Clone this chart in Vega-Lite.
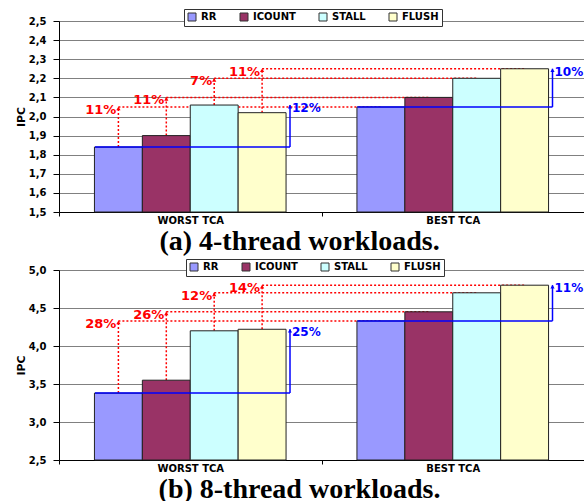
{
  "$schema": "https://vega.github.io/schema/vega-lite/v6.json",
  "padding": {"left": 14, "top": 8, "right": 0, "bottom": 0},
  "background": "white",
  "bounds": "flush",
  "spacing": 58,
  "datasets": {
    "top": [
      {"series": "RR", "WORST TCA": 1.84, "BEST TCA": 2.05, "pct": "11%"},
      {"series": "ICOUNT", "WORST TCA": 1.90, "BEST TCA": 2.10, "pct": "11%"},
      {"series": "STALL", "WORST TCA": 2.06, "BEST TCA": 2.20, "pct": "7%"},
      {"series": "FLUSH", "WORST TCA": 2.02, "BEST TCA": 2.25, "pct": "11%"}
    ],
    "topBlue": [
      {"category": "WORST TCA", "from": 1.84, "to": 2.06, "pct": "12%"},
      {"category": "BEST TCA", "from": 2.05, "to": 2.25, "pct": "10%"}
    ],
    "bottom": [
      {"series": "RR", "WORST TCA": 3.38, "BEST TCA": 4.33, "pct": "28%"},
      {"series": "ICOUNT", "WORST TCA": 3.55, "BEST TCA": 4.45, "pct": "26%"},
      {"series": "STALL", "WORST TCA": 4.20, "BEST TCA": 4.70, "pct": "12%"},
      {"series": "FLUSH", "WORST TCA": 4.22, "BEST TCA": 4.80, "pct": "14%"}
    ],
    "bottomBlue": [
      {"category": "WORST TCA", "from": 3.38, "to": 4.22, "pct": "25%"},
      {"category": "BEST TCA", "from": 4.33, "to": 4.80, "pct": "11%"}
    ]
  },
  "resolve": {"scale": {"color": "independent"}, "legend": {"color": "independent"}},
  "vconcat": [
    {
      "width": 525,
      "height": 191,
      "layer": [
        {
          "data": {"name": "top"},
          "transform": [{"fold": ["WORST TCA", "BEST TCA"], "as": ["category", "value"]}],
          "mark": {"type": "line", "color": "#FF0000", "strokeWidth": 1.5, "strokeDash": [2, 2]},
          "encoding": {
            "x": {"field": "category", "type": "nominal", "scale": {"domain": ["WORST TCA", "BEST TCA"], "paddingInner": 0, "paddingOuter": 0}},
            "xOffset": {"field": "series", "type": "nominal", "scale": {"domain": ["RR", "ICOUNT", "STALL", "FLUSH"], "paddingInner": 0, "paddingOuter": 0.74}},
            "y": {"field": "BEST TCA", "type": "quantitative", "scale": {"domain": [1.5, 2.5], "nice": false, "zero": false}},
            "detail": {"field": "series"}
          }
        },
        {
          "data": {"name": "top"},
          "mark": {"type": "rule", "color": "#FF0000", "strokeWidth": 1.5, "strokeDash": [2, 2]},
          "encoding": {
            "x": {"datum": "WORST TCA", "type": "nominal"},
            "xOffset": {"field": "series", "type": "nominal"},
            "y": {"field": "WORST TCA", "type": "quantitative"},
            "y2": {"field": "BEST TCA"}
          }
        },
        {
          "data": {"name": "top"},
          "transform": [{"fold": ["WORST TCA", "BEST TCA"], "as": ["category", "value"]}],
          "mark": {"type": "bar", "stroke": "#222222", "strokeWidth": 1},
          "encoding": {
            "x": {"field": "category", "type": "nominal", "sort": ["WORST TCA", "BEST TCA"],
              "axis": {"title": "(a) 4-thread workloads.", "bandPosition": 0.5, "labelAngle": 0, "labelAlign": "center", "tickBand": "extent", "ticks": true, "tickSize": 4, "tickColor": "black", "domainColor": "black", "labelPadding": 4, "labelFontSize": 10, "titleFont": "Liberation Serif", "titleFontSize": 28, "titleFontWeight": "bold", "titleX": 240, "titleAlign": "center", "titlePadding": 2, "grid": false}},
            "xOffset": {"field": "series", "type": "nominal", "sort": ["RR", "ICOUNT", "STALL", "FLUSH"]},
            "y": {"field": "value", "type": "quantitative", "stack": null,
              "axis": {"title": "IPC", "values": [1.5, 1.6, 1.7, 1.8, 1.9, 2.0, 2.1, 2.2, 2.3, 2.4, 2.5], "tickCount": 11, "labelOverlap": false, "labelExpr": "replace(format(datum.value, '.1f'), '.', ',')", "grid": true, "gridColor": "#808080", "tickSize": 6, "tickColor": "black", "domainColor": "black", "labelPadding": 7, "labelFontSize": 10, "titleFontSize": 11, "titleFontWeight": "bold", "titlePadding": 2}},
            "color": {"field": "series", "type": "nominal",
              "scale": {"domain": ["RR", "ICOUNT", "STALL", "FLUSH"], "range": ["#9999FF", "#993366", "#CCFFFF", "#FFFFCC"]},
              "legend": {"title": null, "orient": "none", "legendX": 125, "legendY": -12, "direction": "horizontal", "columns": 4, "padding": 3, "strokeColor": "#333333", "fillColor": "#FFFFFF", "symbolType": "square", "symbolSize": 64, "symbolStrokeColor": "#333333", "symbolStrokeWidth": 1, "labelFont": "DejaVu Sans", "labelFontWeight": "bold", "labelFontSize": 10, "labelColor": "black", "labelOffset": 4, "columnPadding": 21}}
          }
        },
        {
          "data": {"name": "topBlue"},
          "mark": {"type": "rule", "color": "#0000FF", "strokeWidth": 1.5},
          "encoding": {
            "x": {"field": "category", "type": "nominal", "bandPosition": 0.137},
            "x2": {"field": "category", "bandPosition": 0.88},
            "y": {"field": "from", "type": "quantitative"}
          }
        },
        {
          "data": {"name": "topBlue"},
          "mark": {"type": "rule", "color": "#0000FF", "strokeWidth": 1.5},
          "encoding": {
            "x": {"field": "category", "type": "nominal", "bandPosition": 0.88},
            "y": {"field": "from", "type": "quantitative"},
            "y2": {"field": "to"}
          }
        },
        {
          "data": {"name": "topBlue"},
          "mark": {"type": "point", "shape": "triangle-up", "filled": true, "color": "#0000FF", "size": 18, "opacity": 1, "yOffset": 1.5},
          "encoding": {
            "x": {"field": "category", "type": "nominal", "bandPosition": 0.88},
            "y": {"field": "to", "type": "quantitative"}
          }
        },
        {
          "data": {"name": "topBlue"},
          "mark": {"type": "text", "color": "#0000FF", "font": "DejaVu Sans", "fontWeight": "bold", "fontSize": 12, "align": "left", "baseline": "middle", "dx": 2, "dy": 3},
          "encoding": {
            "x": {"field": "category", "type": "nominal", "bandPosition": 0.88},
            "y": {"field": "to", "type": "quantitative"},
            "text": {"field": "pct"}
          }
        },
        {
          "data": {"name": "top"},
          "mark": {"type": "point", "shape": "triangle-up", "filled": true, "color": "#FF0000", "size": 18, "opacity": 1, "yOffset": 1.5},
          "encoding": {
            "x": {"datum": "WORST TCA", "type": "nominal"},
            "xOffset": {"field": "series", "type": "nominal"},
            "y": {"field": "BEST TCA", "type": "quantitative"}
          }
        },
        {
          "data": {"name": "top"},
          "mark": {"type": "text", "color": "#FF0000", "font": "DejaVu Sans", "fontWeight": "bold", "fontSize": 13, "align": "right", "baseline": "middle", "dx": -2, "dy": 3},
          "encoding": {
            "x": {"datum": "WORST TCA", "type": "nominal"},
            "xOffset": {"field": "series", "type": "nominal"},
            "y": {"field": "BEST TCA", "type": "quantitative"},
            "text": {"field": "pct"}
          }
        }
      ]
    },
    {
      "width": 525,
      "height": 190,
      "layer": [
        {
          "data": {"name": "bottom"},
          "transform": [{"fold": ["WORST TCA", "BEST TCA"], "as": ["category", "value"]}],
          "mark": {"type": "line", "color": "#FF0000", "strokeWidth": 1.5, "strokeDash": [2, 2]},
          "encoding": {
            "x": {"field": "category", "type": "nominal", "scale": {"domain": ["WORST TCA", "BEST TCA"], "paddingInner": 0, "paddingOuter": 0}},
            "xOffset": {"field": "series", "type": "nominal", "scale": {"domain": ["RR", "ICOUNT", "STALL", "FLUSH"], "paddingInner": 0, "paddingOuter": 0.74}},
            "y": {"field": "BEST TCA", "type": "quantitative", "scale": {"domain": [2.5, 5.0], "nice": false, "zero": false}},
            "detail": {"field": "series"}
          }
        },
        {
          "data": {"name": "bottom"},
          "mark": {"type": "rule", "color": "#FF0000", "strokeWidth": 1.5, "strokeDash": [2, 2]},
          "encoding": {
            "x": {"datum": "WORST TCA", "type": "nominal"},
            "xOffset": {"field": "series", "type": "nominal"},
            "y": {"field": "WORST TCA", "type": "quantitative"},
            "y2": {"field": "BEST TCA"}
          }
        },
        {
          "data": {"name": "bottom"},
          "transform": [{"fold": ["WORST TCA", "BEST TCA"], "as": ["category", "value"]}],
          "mark": {"type": "bar", "stroke": "#222222", "strokeWidth": 1},
          "encoding": {
            "x": {"field": "category", "type": "nominal", "sort": ["WORST TCA", "BEST TCA"],
              "axis": {"title": "(b) 8-thread workloads.", "bandPosition": 0.5, "labelAngle": 0, "labelAlign": "center", "tickBand": "extent", "ticks": true, "tickSize": 4, "tickColor": "black", "domainColor": "black", "labelPadding": 4, "labelFontSize": 10, "titleFont": "Liberation Serif", "titleFontSize": 28, "titleFontWeight": "bold", "titleX": 240, "titleAlign": "center", "titlePadding": 2, "grid": false}},
            "xOffset": {"field": "series", "type": "nominal", "sort": ["RR", "ICOUNT", "STALL", "FLUSH"]},
            "y": {"field": "value", "type": "quantitative", "stack": null,
              "axis": {"title": "IPC", "values": [2.5, 3.0, 3.5, 4.0, 4.5, 5.0], "tickCount": 6, "labelOverlap": false, "labelExpr": "replace(format(datum.value, '.1f'), '.', ',')", "grid": true, "gridColor": "#808080", "tickSize": 6, "tickColor": "black", "domainColor": "black", "labelPadding": 7, "labelFontSize": 10, "titleFontSize": 11, "titleFontWeight": "bold", "titlePadding": 2}},
            "color": {"field": "series", "type": "nominal",
              "scale": {"domain": ["RR", "ICOUNT", "STALL", "FLUSH"], "range": ["#9999FF", "#993366", "#CCFFFF", "#FFFFCC"]},
              "legend": {"title": null, "orient": "none", "legendX": 127, "legendY": -11, "direction": "horizontal", "columns": 4, "padding": 3, "strokeColor": "#333333", "fillColor": "#FFFFFF", "symbolType": "square", "symbolSize": 64, "symbolStrokeColor": "#333333", "symbolStrokeWidth": 1, "labelFont": "DejaVu Sans", "labelFontWeight": "bold", "labelFontSize": 10, "labelColor": "black", "labelOffset": 4, "columnPadding": 21}}
          }
        },
        {
          "data": {"name": "bottomBlue"},
          "mark": {"type": "rule", "color": "#0000FF", "strokeWidth": 1.5},
          "encoding": {
            "x": {"field": "category", "type": "nominal", "bandPosition": 0.137},
            "x2": {"field": "category", "bandPosition": 0.88},
            "y": {"field": "from", "type": "quantitative"}
          }
        },
        {
          "data": {"name": "bottomBlue"},
          "mark": {"type": "rule", "color": "#0000FF", "strokeWidth": 1.5},
          "encoding": {
            "x": {"field": "category", "type": "nominal", "bandPosition": 0.88},
            "y": {"field": "from", "type": "quantitative"},
            "y2": {"field": "to"}
          }
        },
        {
          "data": {"name": "bottomBlue"},
          "mark": {"type": "point", "shape": "triangle-up", "filled": true, "color": "#0000FF", "size": 18, "opacity": 1, "yOffset": 1.5},
          "encoding": {
            "x": {"field": "category", "type": "nominal", "bandPosition": 0.88},
            "y": {"field": "to", "type": "quantitative"}
          }
        },
        {
          "data": {"name": "bottomBlue"},
          "mark": {"type": "text", "color": "#0000FF", "font": "DejaVu Sans", "fontWeight": "bold", "fontSize": 12, "align": "left", "baseline": "middle", "dx": 2, "dy": 3},
          "encoding": {
            "x": {"field": "category", "type": "nominal", "bandPosition": 0.88},
            "y": {"field": "to", "type": "quantitative"},
            "text": {"field": "pct"}
          }
        },
        {
          "data": {"name": "bottom"},
          "mark": {"type": "point", "shape": "triangle-up", "filled": true, "color": "#FF0000", "size": 18, "opacity": 1, "yOffset": 1.5},
          "encoding": {
            "x": {"datum": "WORST TCA", "type": "nominal"},
            "xOffset": {"field": "series", "type": "nominal"},
            "y": {"field": "BEST TCA", "type": "quantitative"}
          }
        },
        {
          "data": {"name": "bottom"},
          "mark": {"type": "text", "color": "#FF0000", "font": "DejaVu Sans", "fontWeight": "bold", "fontSize": 13, "align": "right", "baseline": "middle", "dx": -2, "dy": 3},
          "encoding": {
            "x": {"datum": "WORST TCA", "type": "nominal"},
            "xOffset": {"field": "series", "type": "nominal"},
            "y": {"field": "BEST TCA", "type": "quantitative"},
            "text": {"field": "pct"}
          }
        }
      ]
    }
  ],
  "config": {
    "view": {"stroke": "#808080"},
    "axis": {"labelFont": "DejaVu Sans", "labelFontWeight": "bold", "labelColor": "black", "titleFont": "DejaVu Sans", "titleColor": "black"}
  }
}
